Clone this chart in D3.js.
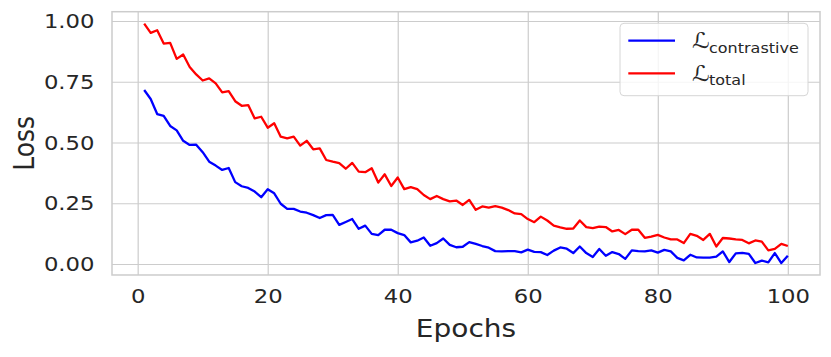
<!DOCTYPE html>
<html>
<head>
<meta charset="utf-8">
<script src="https://cdn.jsdelivr.net/npm/d3@7"></script>
<style>
  body { margin: 0; background: #fff; }
  svg { display: block; font-family: "DejaVu Sans", sans-serif; }
</style>
</head>
<body>
<svg id="chart" width="831" height="357"></svg>
<script>
// epochs on the x axis
const epochs = [1, 2, 3, 4, 5, 6, 7, 8, 9, 10, 11, 12, 13, 14, 15, 16, 17, 18, 19, 20,
  21, 22, 23, 24, 25, 26, 27, 28, 29, 30, 31, 32, 33, 34, 35, 36, 37, 38, 39, 40,
  41, 42, 43, 44, 45, 46, 47, 48, 49, 50, 51, 52, 53, 54, 55, 56, 57, 58, 59, 60,
  61, 62, 63, 64, 65, 66, 67, 68, 69, 70, 71, 72, 73, 74, 75, 76, 77, 78, 79, 80,
  81, 82, 83, 84, 85, 86, 87, 88, 89, 90, 91, 92, 93, 94, 95, 96, 97, 98, 99, 100];

// contrastive loss (blue)
const lossContrastive = [0.716, 0.679, 0.617, 0.610, 0.568, 0.550, 0.507, 0.490, 0.491, 0.460,
  0.421, 0.405, 0.387, 0.395, 0.337, 0.320, 0.313, 0.298, 0.275, 0.308,
  0.291, 0.248, 0.227, 0.227, 0.216, 0.211, 0.201, 0.189, 0.201, 0.202,
  0.161, 0.173, 0.185, 0.145, 0.158, 0.124, 0.119, 0.141, 0.141, 0.127,
  0.119, 0.089, 0.096, 0.109, 0.075, 0.086, 0.105, 0.079, 0.069, 0.071,
  0.090, 0.083, 0.074, 0.067, 0.053, 0.052, 0.053, 0.053, 0.048, 0.059,
  0.050, 0.049, 0.037, 0.055, 0.068, 0.063, 0.045, 0.072, 0.045, 0.029,
  0.062, 0.034, 0.049, 0.041, 0.021, 0.056, 0.053, 0.052, 0.056, 0.047,
  0.058, 0.052, 0.025, 0.015, 0.038, 0.027, 0.026, 0.026, 0.030, 0.052,
  0.008, 0.044, 0.046, 0.042, 0.004, 0.014, 0.007, 0.045, 0.004, 0.034];

// total loss (red)
const lossTotal = [0.989, 0.951, 0.962, 0.907, 0.910, 0.844, 0.862, 0.811, 0.780, 0.755,
  0.764, 0.743, 0.706, 0.711, 0.670, 0.651, 0.654, 0.599, 0.606, 0.561,
  0.579, 0.524, 0.517, 0.524, 0.487, 0.507, 0.472, 0.476, 0.428, 0.421,
  0.415, 0.392, 0.416, 0.380, 0.378, 0.394, 0.335, 0.369, 0.321, 0.356,
  0.308, 0.316, 0.308, 0.284, 0.267, 0.280, 0.267, 0.258, 0.261, 0.243,
  0.264, 0.223, 0.237, 0.232, 0.238, 0.232, 0.222, 0.208, 0.205, 0.185,
  0.172, 0.195, 0.179, 0.158, 0.151, 0.145, 0.146, 0.179, 0.152, 0.148,
  0.154, 0.152, 0.134, 0.140, 0.123, 0.141, 0.141, 0.108, 0.113, 0.120,
  0.109, 0.101, 0.101, 0.086, 0.124, 0.116, 0.099, 0.124, 0.072, 0.107,
  0.105, 0.101, 0.099, 0.085, 0.097, 0.092, 0.056, 0.062, 0.083, 0.074];

const xTicks = [0, 20, 40, 60, 80, 100];
const yTicks = [0, 0.25, 0.5, 0.75, 1.0];

const seriesNames = ["contrastive", "total"];
const seriesColors = ["blue", "red"];

// plot box (pixels)
const margin = { top: 11.7, right: 11, bottom: 82, left: 112 };
const width = 831 - margin.left - margin.right;
const height = 357 - margin.top - margin.bottom;
const textColor = "#262626";
const gridColor = "#cccccc";
const stretch = 1.12; // the reference text is a bit wide

const svg = d3.select("#chart");
const g = svg.append("g").attr("transform", `translate(${margin.left},${margin.top})`);

// matplotlib style 5% margins
const xPad = (d3.max(epochs) - d3.min(epochs)) * 0.05;
const xScale = d3.scaleLinear()
  .domain([d3.min(epochs) - xPad, d3.max(epochs) + xPad])
  .range([0, width]);

const allVals = lossContrastive.concat(lossTotal);
const yExt = d3.extent(allVals);
const yPad = (yExt[1] - yExt[0]) * 0.05;
const yScale = d3.scaleLinear()
  .domain([yExt[0] - yPad, yExt[1] + yPad])
  .range([height, 0]);

// x axis with grid lines
const xAxis = g.append("g")
  .attr("transform", `translate(0,${height})`)
  .call(d3.axisBottom(xScale).tickValues(xTicks).tickSize(-height).tickPadding(13.5).tickFormat(d3.format("d")));
xAxis.select(".domain").remove();
xAxis.selectAll(".tick line").attr("stroke", gridColor).attr("stroke-width", 1.2);
xAxis.selectAll(".tick text")
  .attr("fill", textColor)
  .attr("font-size", 20.3)
  .attr("font-family", "DejaVu Sans")
  .attr("transform", `scale(${stretch},1)`);

// y axis with grid lines
const yAxis = g.append("g")
  .call(d3.axisLeft(yScale).tickValues(yTicks).tickSize(-width).tickPadding(0).tickFormat(d3.format(".2f")));
yAxis.select(".domain").remove();
yAxis.selectAll(".tick line").attr("stroke", gridColor).attr("stroke-width", 1.2);
yAxis.selectAll(".tick text")
  .attr("fill", textColor)
  .attr("font-size", 20.3)
  .attr("font-family", "DejaVu Sans")
  .attr("x", -17.5 / stretch)
  .attr("transform", `scale(${stretch},1)`);

// frame
g.append("rect")
  .attr("width", width)
  .attr("height", height)
  .attr("fill", "none")
  .attr("stroke", gridColor)
  .attr("stroke-width", 1.5);

// lines
const line = d3.line()
  .x((d, i) => xScale(epochs[i]))
  .y(d => yScale(d));

[lossContrastive, lossTotal].forEach((vals, k) => {
  g.append("path")
    .datum(vals)
    .attr("fill", "none")
    .attr("stroke", seriesColors[k])
    .attr("stroke-width", 2.3)
    .attr("stroke-linejoin", "round")
    .attr("d", line);
});

// axis labels
svg.append("text")
  .attr("transform", `translate(${margin.left + width / 2},337) scale(${stretch},1)`)
  .attr("text-anchor", "middle")
  .attr("fill", textColor)
  .attr("font-size", 25)
  .text("Epochs");

svg.append("text")
  .attr("transform", `translate(34,${margin.top + height / 2}) rotate(-90) scale(1,${stretch})`)
  .attr("text-anchor", "middle")
  .attr("fill", textColor)
  .attr("font-size", 25)
  .text("Loss");

// legend
const legend = svg.append("g").attr("transform", "translate(620,23.3)");
legend.append("rect")
  .attr("width", 188)
  .attr("height", 72.4)
  .attr("rx", 4)
  .attr("fill", "rgba(255,255,255,0.8)")
  .attr("stroke", "#d6d6d6")
  .attr("stroke-width", 1);

seriesNames.forEach((name, k) => {
  const yy = 17.4 + k * 32.6;
  legend.append("line")
    .attr("x1", 8.3).attr("x2", 55)
    .attr("y1", yy).attr("y2", yy)
    .attr("stroke", seriesColors[k])
    .attr("stroke-width", 2.3);
  legend.append("text")
    .attr("transform", `translate(72,${yy + 7.6}) scale(${stretch},1)`)
    .attr("fill", textColor)
    .attr("font-size", 22)
    .text("\u2112");
  legend.append("text")
    .attr("transform", `translate(89,${yy + 11.8}) scale(${stretch},1)`)
    .attr("fill", textColor)
    .attr("font-size", 14.3)
    .text(name);
});
</script>
</body>
</html>
